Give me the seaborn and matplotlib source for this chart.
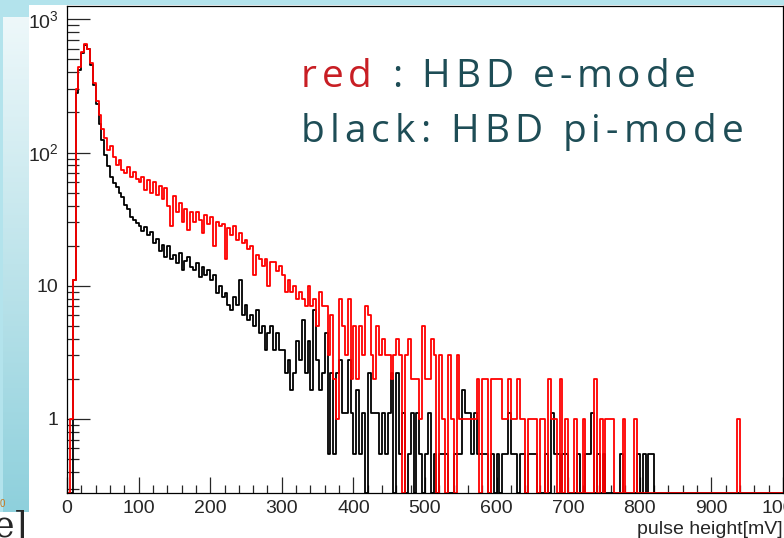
import numpy as np
import pandas as pd
import matplotlib
matplotlib.use('Agg')
import matplotlib.pyplot as plt
import seaborn as sns
from matplotlib.font_manager import FontProperties
from matplotlib.patches import Rectangle
from matplotlib.colors import LinearSegmentedColormap
from matplotlib.ticker import MultipleLocator, FixedLocator, LogLocator, NullFormatter

# %%
# histogram contents, 4 mV bins from 0 to 1000 mV
bin_width_mv = 4
x_range_mv = (0, 1000)

# HBD e-mode (red), counts per bin
red_counts = [
    0, 1, 11, 300, 440, 570, 650, 600, 470, 330, 245, 190, 150, 128, 105, 112, 92, 80, 88, 74, 70, 78, 66, 72, 63,
    60, 66, 52, 62, 50, 60, 48, 56, 45, 54, 40, 28, 47, 36, 42, 30, 38, 26, 36, 30, 36, 31, 25, 34, 29,
    33, 20, 30, 28, 29, 16, 27, 24, 28, 22, 25, 21, 22, 19, 20, 12, 17, 16, 14, 16, 10, 15, 15, 13, 14,
    12, 9, 11, 9, 10, 8, 9, 8, 7, 10, 7, 8, 5, 9, 7, 7, 3, 6, 2, 1, 8, 5, 3, 8, 2,
    5, 2, 5, 3, 7, 6, 3, 2, 5, 3, 4, 3, 3, 2, 3, 4, 3, 0, 3, 4, 2, 2, 2, 1, 5,
    2, 2, 4, 3, 0, 3, 1, 0, 3, 1, 0, 3, 1, 1, 1, 1, 1, 1, 2, 0, 2, 2, 0, 2, 2,
    2, 2, 1, 1, 2, 1, 1, 2, 1, 1, 0, 1, 1, 1, 0, 1, 1, 0, 2, 1, 1, 0, 2, 0, 1,
    0, 0, 1, 0, 0, 1, 0, 0, 0, 2, 0, 1, 0, 1, 1, 1, 0, 0, 0, 1, 0, 0, 0, 1, 0,
    0, 0, 0, 0, 0, 0, 0, 0, 0, 0, 0, 0, 0, 0, 0, 0, 0, 0, 0, 0, 0, 0, 0, 0, 0,
    0, 0, 0, 0, 0, 0, 0, 0, 0, 1, 0, 0, 0, 0, 0, 0, 0, 0, 0, 0, 0, 0, 0, 0, 0,
]

# HBD pi-mode (black), raw counts per bin, drawn scaled to the red peak
black_counts = [
    0, 0, 20, 510, 760, 1020, 1165, 1090, 820, 580, 420, 300, 225, 175, 145, 120, 108, 100, 90, 84, 74, 69, 60, 57, 54,
    51, 47, 50, 44, 46, 38, 41, 33, 37, 30, 36, 29, 31, 27, 32, 24, 28, 30, 25, 24, 27, 21, 25, 22, 24,
    20, 22, 16, 18, 15, 16, 13, 12, 15, 13, 20, 11, 13, 10, 11, 9, 12, 8, 9, 6, 8, 9, 6, 8, 6,
    6, 4, 5, 3, 4, 7, 5, 10, 4, 7, 3, 12, 5, 3, 4, 8, 1, 4, 1, 4, 5, 2, 2, 5, 2,
    1, 3, 1, 2, 0, 4, 2, 2, 2, 1, 2, 1, 2, 4, 0, 4, 1, 2, 0, 1, 2, 0, 2, 1, 0,
    1, 2, 0, 1, 0, 1, 1, 1, 0, 0, 1, 1, 1, 3, 2, 2, 1, 2, 1, 1, 1, 1, 0, 1, 0,
    1, 0, 1, 1, 2, 1, 1, 0, 1, 1, 0, 1, 1, 1, 0, 0, 0, 1, 0, 2, 1, 1, 0, 1, 1,
    0, 0, 0, 1, 0, 0, 1, 1, 2, 0, 1, 0, 1, 0, 0, 0, 0, 0, 1, 0, 0, 0, 0, 0, 1,
    0, 1, 0, 1, 1, 0, 0, 0, 0, 0, 0, 0, 0, 0, 0, 0, 0, 0, 0, 0, 0, 0, 0, 0, 0,
    0, 0, 0, 0, 0, 0, 0, 0, 0, 0, 0, 0, 0, 0, 0, 0, 0, 0, 0, 0, 0, 0, 0, 0, 0,
]
black_scale = 0.55

y_ticks = [1, 10, 100, 1000]
y_tick_labels = ['1', '10', r'$10^{2}$', r'$10^{3}$']
y_range = (0.278, 1270)

# %%
W, H = 784, 538
sns.set_style('ticks')
plt.rcParams['font.family'] = ['Liberation Sans', 'DejaVu Sans']
plt.rcParams['mathtext.fontset'] = 'custom'
plt.rcParams['mathtext.rm'] = 'Liberation Sans'
plt.rcParams['mathtext.it'] = 'Liberation Sans:italic'

fig = plt.figure(figsize=(W / 100, H / 100), dpi=100, facecolor='#b3e3ec')

# slide background around the pasted ROOT canvas
bg = fig.add_axes([0, 0, 1, 1], zorder=-10)
grad = np.linspace(0, 1, 256).reshape(-1, 1)
slide_cmap = LinearSegmentedColormap.from_list('slide', ['#eef8fa', '#8ed0dc'])
bg.imshow(grad, extent=(3, 29, 512, 17), cmap=slide_cmap, aspect='auto')
bg.add_patch(Rectangle((0, 512), 29, 26, facecolor='white', edgecolor='none'))
bg.add_patch(Rectangle((29, 5), W - 29, H - 5, facecolor='white', edgecolor='none'))
bg.set_xlim(0, W)
bg.set_ylim(H, 0)
bg.axis('off')

# %%
hist = pd.DataFrame({
    'mv': np.arange(len(red_counts)) * bin_width_mv + bin_width_mv / 2,
    'red': np.array(red_counts, dtype=float),
    'black': np.array(black_counts) * black_scale,
})
# empty bins are drawn on the frame bottom like ROOT does
hist['red_draw'] = hist['red'].clip(lower=y_range[0])
hist['black_draw'] = hist['black'].clip(lower=y_range[0])

ax = fig.add_axes([67 / W, 1 - 493 / H, 716 / W, 487.5 / H])
ax.set_yscale('log')
sns.histplot(data=hist, x='mv', weights='black_draw', binwidth=bin_width_mv, binrange=x_range_mv,
             element='step', fill=False, color='black', linewidth=1.3, ax=ax)
sns.histplot(data=hist, x='mv', weights='red_draw', binwidth=bin_width_mv, binrange=x_range_mv,
             element='step', fill=False, color='red', linewidth=1.3, ax=ax)

ax.set_xlim(*x_range_mv)
ax.set_ylim(*y_range)
ax.xaxis.set_major_locator(MultipleLocator(100))
ax.xaxis.set_minor_locator(MultipleLocator(20))
ax.yaxis.set_major_locator(FixedLocator(y_ticks))
ax.yaxis.set_minor_locator(LogLocator(base=10, subs=np.arange(2, 10), numticks=30))
ax.yaxis.set_minor_formatter(NullFormatter())
ax.set_yticklabels(y_tick_labels)

ax.tick_params(axis='x', which='major', direction='in', length=11.5, width=0.9, pad=5, labelsize=14)
ax.tick_params(axis='x', which='minor', direction='in', length=5.8, width=0.9)
ax.tick_params(axis='y', which='major', direction='in', length=16.5, width=0.9, pad=6, labelsize=14)
ax.tick_params(axis='y', which='minor', direction='in', length=8.5, width=0.9)
for s in ax.spines.values():
    s.set_visible(True)
    s.set_color('black')
    s.set_linewidth(0.9)

ax.set_xlabel('pulse height[mV]', loc='right', fontsize=14, labelpad=3)
ax.set_ylabel('')

# %%
# slide annotation, letter-spaced like the original
def spaced_text(x0, y0, parts, prop, tracking):
    r = fig.canvas.get_renderer()
    bars = r.get_text_width_height_descent('||', prop, ismath=False)[0]
    x = x0
    for s, col in parts:
        for ch in s:
            fig.text(x / W, 1 - y0 / H, ch, fontproperties=prop, color=col, ha='left', va='baseline')
            w = r.get_text_width_height_descent('|' + ch + '|', prop, ismath=False)[0] - bars
            x += w + tracking

note_font = FontProperties(family='Open Sans', size=28)
teal = '#1e4d56'
spaced_text(301, 87, [('red', '#c81e24'), (' : HBD e-mode', teal)], note_font, 4.8)
spaced_text(301, 142, [('black: HBD pi-mode', teal)], note_font, 5)

# bits of the slide that show at the left edge
fig.text(0.0, 1 - 504 / H, '0', color='#c8781e', fontsize=7, va='center', ha='left')
fig.text(-7 / W, 1 - 536 / H, 'e]', family='DejaVu Serif', fontsize=25, va='baseline', ha='left')

fig.savefig('out.png', dpi=100, facecolor=fig.get_facecolor())
